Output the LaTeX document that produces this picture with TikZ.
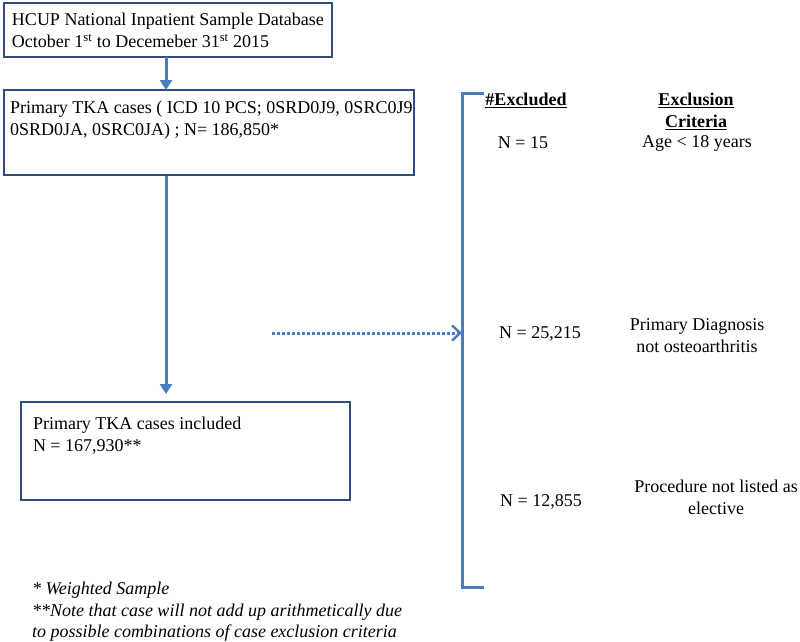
\documentclass[tikz,border=0pt]{standalone}
\usepackage{fontspec}
\setmainfont{Liberation Serif}
\usetikzlibrary{arrows.meta}
\definecolor{boxline}{HTML}{2F4C7E}
\definecolor{arrblue}{HTML}{4A7CC0}
\begin{document}
\begin{tikzpicture}[x=1pt,y=-1pt,
  every node/.style={inner sep=0pt,outer sep=0pt,font=\fontsize{18}{22}\selectfont},
  flowbox/.style={draw=boxline,line width=2.2pt,anchor=north west,rectangle},
  txt/.style={align=left,anchor=north west},
  ctxt/.style={align=center},
  arr/.style={draw=arrblue,line width=3pt,-{Triangle[length=10pt,width=12pt]}},
  dotarr/.style={draw=arrblue,line width=3pt,dotted,-{Straight Barb[length=8pt,width=15pt,line width=2.5pt]}},
  bracket/.style={draw=arrblue,line width=3pt}
]
\useasboundingbox (0,0) rectangle (800,641);
% boxes
\node[flowbox,minimum width=328pt,minimum height=54pt] (b1) at (4,3) {};
\node[flowbox,minimum width=410pt,minimum height=85pt] (b2) at (4,90) {};
\node[flowbox,minimum width=329pt,minimum height=98pt] (b3) at (21,402) {};
% box texts
\node[txt] (t1) at (12,13) {HCUP National Inpatient Sample Database\\October 1\textsuperscript{st} to Decemeber 31\textsuperscript{st} 2015};
\node[txt] (t2) at (10,101) {Primary TKA cases ( ICD 10 PCS; 0SRD0J9, 0SRC0J9\\0SRD0JA, 0SRC0JA) ; N= 186,850*};
\node[txt] (t3) at (33,417) {Primary TKA cases included\\N = 167,930**};
% connectors
\coordinate (a1s) at (166,57);
\coordinate (a2s) at (166,176);
\coordinate (a2e) at (166,394);
\draw[arr] (a1s) -- (a1s |- b2.north);
\draw[arr] (a2s) -- (a2e);
% bracket
\coordinate (bt) at (462,93);
\coordinate (bb) at (462,587);
\coordinate (btr) at (484,93);
\coordinate (bbr) at (484,587);
\draw[bracket] (btr) -- (bt) -- (bb) -- (bbr);
\coordinate (ds) at (272,333);
\draw[dotarr] (ds) -- (ds -| bt);
% headings
\node[ctxt] (h1) at (526,100) {\underline{\textbf{\#Excluded}}};
\node[ctxt] (h2) at (696,111) {\underline{\textbf{Exclusion}}\\\underline{\textbf{Criteria}}};
% rows
\node[ctxt] (n1) at (523,143) {N = 15};
\node[ctxt] (c1) at (697,143) {Age < 18 years};
\node[ctxt] (n2) at (540,334) {N = 25,215};
\node[ctxt] (c2) at (697,336) {Primary Diagnosis\\not osteoarthritis};
\node[ctxt] (n3) at (541,502) {N = 12,855};
\node[ctxt] (c3) at (716,497) {Procedure not listed as\\elective};
% footnotes
\node[txt,font=\fontsize{18}{21.5}\selectfont\itshape] (f1) at (32,582) {* Weighted Sample\\**Note that case will not add up arithmetically due\\to possible combinations of case exclusion criteria};
\end{tikzpicture}
\end{document}
